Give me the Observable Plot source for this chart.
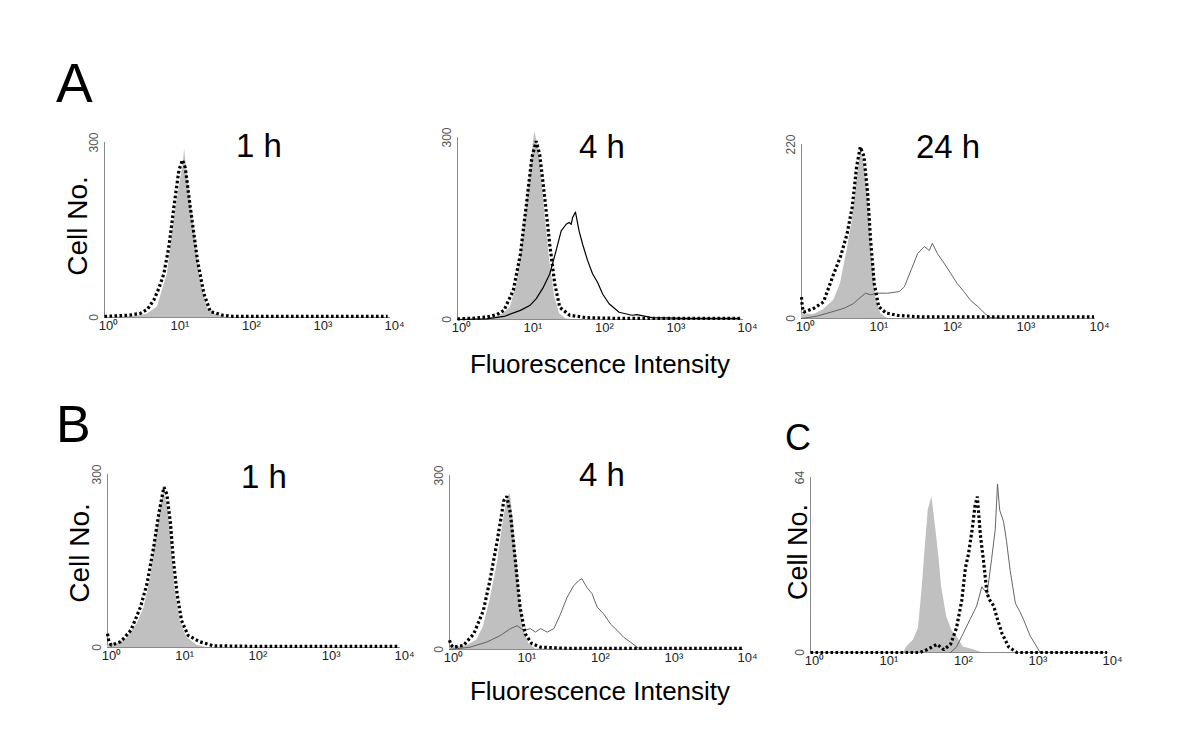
<!DOCTYPE html>
<html><head><meta charset="utf-8">
<script src="https://cdn.jsdelivr.net/npm/d3@7"></script>
<script src="https://cdn.jsdelivr.net/npm/@observablehq/plot@0.6"></script>
<style>
html,body{margin:0;padding:0;background:#fff;}
#fig{position:relative;width:1200px;height:756px;overflow:hidden;background:#fff;font-family:Arial,"Liberation Sans",Helvetica,sans-serif;}
#fig svg{position:absolute;}
</style></head><body><div id="fig"></div>
<script>
// ---- data (x in log10 decades of fluorescence intensity, y = cell number) ----
const decadeTicks = [1, 10, 100, 1000, 10000];
const decadeLabels = ["10\u2070", "10\u00B9", "10\u00B2", "10\u00B3", "10\u2074"];

// Panel A, 1 h
const a1FillLg = [0, 0.3, 0.5, 0.6, 0.74, 0.88, 0.97, 1.06, 1.1, 1.12, 1.15, 1.18, 1.25, 1.34, 1.44, 1.58, 1.7, 4];
const a1FillN  = [0, 1, 3, 6, 18, 75, 166, 234, 262, 289, 255, 223, 155, 64, 15, 4, 0, 0];
const a1DotLg  = [0, 0.2, 0.35, 0.5, 0.6, 0.69, 0.76, 0.83, 0.9, 0.97, 1.04, 1.09, 1.13, 1.2, 1.3, 1.39, 1.48, 1.55, 1.65, 1.8, 2.2, 3, 3.96];
const a1DotN   = [2, 3, 4, 7, 14, 30, 50, 75, 121, 189, 252, 270, 257, 189, 98, 41, 10, 8, 4, 2, 2, 2, 2];

// Panel A, 4 h
const a2FillLg = [0, 0.4, 0.55, 0.65, 0.74, 0.83, 0.92, 1.01, 1.06, 1.08, 1.11, 1.15, 1.22, 1.29, 1.36, 1.43, 1.52, 1.6, 4];
const a2FillN  = [0, 1, 5, 10, 20, 59, 135, 234, 290, 310, 295, 267, 179, 97, 37, 9, 1, 0, 0];
const a2DotLg  = [0, 0.2, 0.41, 0.55, 0.65, 0.78, 0.88, 0.97, 1.04, 1.1, 1.15, 1.22, 1.29, 1.36, 1.43, 1.57, 1.8, 2.2, 3, 3.95];
const a2DotN   = [1, 2, 4, 8, 15, 48, 108, 196, 267, 294, 272, 201, 124, 59, 20, 7, 3, 2, 2, 2];
const a2LineLg = [0, 0.41, 0.65, 0.88, 1.01, 1.1, 1.2, 1.29, 1.38, 1.45, 1.52, 1.56, 1.59, 1.61, 1.65, 1.7, 1.75, 1.82, 1.89, 1.96, 2.03, 2.12, 2.26, 2.44, 2.51, 2.72, 3.18, 3.95];
const a2LineN  = [0, 1, 5, 15, 23, 34, 53, 75, 114, 146, 157, 160, 157, 168, 177, 146, 124, 97, 75, 61, 42, 26, 12, 7, 8, 3, 2, 2];

// Panel A, 24 h
const a3FillLg = [0, 0.17, 0.3, 0.44, 0.53, 0.62, 0.69, 0.76, 0.81, 0.87, 0.92, 0.96, 1.01, 1.08, 1.17, 4];
const a3FillN  = [6, 5, 11, 23, 44, 86, 124, 179, 213, 187, 137, 78, 27, 6, 0, 0];
const a3DotLg  = [0, 0.01, 0.03, 0.17, 0.3, 0.44, 0.53, 0.62, 0.69, 0.75, 0.8, 0.85, 0.9, 0.94, 0.99, 1.05, 1.15, 1.3, 1.62, 2.5, 3.5, 3.98];
const a3DotN   = [27, 15, 8, 13, 21, 57, 78, 107, 141, 192, 217, 205, 158, 99, 44, 15, 7, 4, 2, 2, 2, 2];
const a3LineLg = [0, 0.21, 0.4, 0.58, 0.71, 0.78, 0.87, 0.94, 1.03, 1.17, 1.33, 1.4, 1.49, 1.58, 1.67, 1.74, 1.78, 1.85, 1.94, 2.03, 2.12, 2.21, 2.3, 2.4, 2.51, 2.58, 2.75];
const a3LineN  = [0, 3, 8, 13, 19, 25, 32, 30, 32, 32, 34, 40, 61, 82, 91, 86, 95, 82, 70, 57, 44, 34, 23, 15, 5, 1, 0];

// Panel B, 1 h
const b1FillLg = [0, 0.14, 0.27, 0.41, 0.5, 0.59, 0.65, 0.72, 0.77, 0.83, 0.88, 0.92, 0.99, 1.08, 1.22, 1.35, 4];
const b1FillN  = [4, 7, 16, 42, 70, 122, 180, 238, 272, 238, 174, 105, 47, 18, 4, 0, 0];
const b1DotLg  = [0, 0.02, 0.05, 0.18, 0.32, 0.45, 0.54, 0.63, 0.7, 0.77, 0.81, 0.86, 0.9, 0.95, 1.01, 1.1, 1.26, 1.44, 2, 3, 3.96];
const b1DotN   = [24, 10, 4, 10, 30, 70, 111, 174, 232, 278, 266, 215, 151, 93, 47, 21, 10, 3, 2, 2, 2];

// Panel B, 4 h
const b2FillLg = [0, 0.05, 0.24, 0.37, 0.46, 0.55, 0.65, 0.74, 0.79, 0.83, 0.87, 0.92, 0.96, 1.01, 1.08, 1.17, 4];
const b2FillN  = [3, 4, 7, 16, 39, 84, 148, 228, 263, 268, 217, 148, 84, 33, 10, 1, 0];
const b2DotLg  = [0, 0.02, 0.05, 0.19, 0.33, 0.46, 0.55, 0.65, 0.74, 0.78, 0.83, 0.9, 0.96, 1.03, 1.12, 1.24, 1.6, 2.5, 3.5, 3.98];
const b2DotN   = [16, 8, 4, 7, 27, 67, 119, 188, 257, 264, 234, 148, 73, 27, 10, 4, 2, 2, 2, 2];
const b2LineLg = [0, 0.28, 0.51, 0.69, 0.83, 0.92, 1.01, 1.1, 1.17, 1.24, 1.33, 1.42, 1.51, 1.6, 1.69, 1.76, 1.8, 1.87, 1.94, 2.01, 2.1, 2.19, 2.28, 2.37, 2.46, 2.55, 2.62];
const b2LineN  = [0, 4, 13, 24, 36, 41, 33, 36, 30, 36, 30, 36, 61, 90, 110, 119, 122, 107, 96, 73, 61, 44, 33, 21, 13, 4, 0];

// Panel C
const cFillLg = [1.25, 1.29, 1.38, 1.45, 1.5, 1.54, 1.58, 1.63, 1.67, 1.72, 1.76, 1.83, 1.9, 1.96, 2.05, 2.19, 2.3];
const cFillN  = [0, 2, 4.5, 9, 24, 38.5, 52, 57, 48, 36, 24, 13, 8, 6, 2, 1, 0];
const cDotLg  = [0, 1.47, 1.56, 1.7, 1.79, 1.88, 1.96, 2.03, 2.08, 2.12, 2.17, 2.21, 2.24, 2.28, 2.32, 2.37, 2.41, 2.46, 2.5, 2.57, 2.66, 2.77, 3.98];
const cDotN   = [0, 0, 1, 3, 1, 3, 9, 19, 31, 36, 45, 54, 57, 43, 34, 21.5, 19, 17, 13, 7, 2, 0, 0];
const cLineLg = [1.88, 1.96, 2.05, 2.14, 2.23, 2.3, 2.37, 2.43, 2.48, 2.51, 2.54, 2.59, 2.63, 2.68, 2.75, 2.81, 2.86, 2.95, 3.04, 3.08];
const cLineN  = [0, 2, 7, 12, 17, 24, 21.5, 34, 45, 61.6, 52, 48, 41, 30, 18, 15, 12, 6, 2, 0];

// ---- drawing ----
const FONT = 'Arial, "Liberation Sans", Helvetica, sans-serif';
const fig = document.getElementById("fig");
const zip = (lg, n) => lg.map((v, i) => ({x: Math.pow(10, v), y: n[i]}));

function panel(p) {
  const ml = 30, mr = 16, mt = 12, mb = 26;
  const W = p.x4 - p.x0 + ml + mr;
  const H = p.yBase - p.yTop + mt + mb;
  const marks = [
    Plot.ruleY([0], {x1: 1, x2: 10000, stroke: "#8a8a8a", strokeWidth: 1}),
    Plot.ruleX([1], {y1: 0, y2: p.ymax, stroke: "#8a8a8a", strokeWidth: 1}),
    Plot.text(decadeTicks, {x: d => d, y: () => 0, text: (d, i) => decadeLabels[i], dy: 8, dx: 4, fontSize: 13, fill: "#222"}),
    Plot.text([0, p.ymax], {x: () => 1, y: d => d, text: d => String(d), rotate: -90, dx: -10, fontSize: 12, fill: "#555"})
  ];
  if (p.fill) marks.push(Plot.areaY(zip(...p.fill), {x: "x", y: "y", fill: "#c0c0c0"}));
  if (p.line) marks.push(Plot.line(zip(...p.line), {x: "x", y: "y", stroke: p.lineColor, strokeWidth: p.lineWidth}));
  if (p.dot) marks.push(Plot.line(zip(...p.dot), {x: "x", y: "y", stroke: "#000", strokeWidth: 3.2, strokeDasharray: "2.6,2.4", strokeLinecap: "butt", strokeLinejoin: "miter"}));
  const svg = Plot.plot({
    width: W, height: H,
    marginLeft: ml, marginRight: mr, marginTop: mt, marginBottom: mb,
    x: {type: "log", domain: [1, 10000], axis: null},
    y: {domain: [0, p.ymax], axis: null},
    style: {fontFamily: FONT, background: "transparent", overflow: "visible"},
    marks
  });
  svg.style.left = (p.x0 - ml) + "px";
  svg.style.top = (p.yTop - mt) + "px";
  fig.appendChild(svg);
}

panel({x0: 104, x4: 390, yTop: 142, yBase: 317, ymax: 300, fill: [a1FillLg, a1FillN], dot: [a1DotLg, a1DotN]});
panel({x0: 457, x4: 743, yTop: 137, yBase: 319, ymax: 300, fill: [a2FillLg, a2FillN], line: [a2LineLg, a2LineN], lineColor: "#000", lineWidth: 1.2, dot: [a2DotLg, a2DotN]});
panel({x0: 801, x4: 1095, yTop: 144, yBase: 318, ymax: 220, fill: [a3FillLg, a3FillN], line: [a3LineLg, a3LineN], lineColor: "#555", lineWidth: 0.9, dot: [a3DotLg, a3DotN]});
panel({x0: 107, x4: 400, yTop: 474, yBase: 647, ymax: 300, fill: [b1FillLg, b1FillN], dot: [b1DotLg, b1DotN]});
panel({x0: 449, x4: 743, yTop: 475, yBase: 649, ymax: 300, fill: [b2FillLg, b2FillN], line: [b2LineLg, b2LineN], lineColor: "#555", lineWidth: 0.9, dot: [b2DotLg, b2DotN]});
panel({x0: 810, x4: 1108, yTop: 477, yBase: 652, ymax: 64, fill: [cFillLg, cFillN], line: [cLineLg, cLineN], lineColor: "#555", lineWidth: 0.9, dot: [cDotLg, cDotN]});

// ---- annotation text ----
const ov = d3.select(fig).append("svg").attr("width", 1200).attr("height", 756)
  .style("left", "0px").style("top", "0px").style("pointer-events", "none")
  .attr("font-family", FONT).attr("fill", "#000");
const t = (x, y, s, size, anchor = "middle", rot = 0) =>
  ov.append("text").attr("transform", `translate(${x},${y}) rotate(${rot})`)
    .attr("text-anchor", anchor).attr("font-size", size).text(s);
t(56, 102, "A", 55, "start");
t(56, 442, "B", 52, "start");
t(785, 450, "C", 36, "start");
t(259, 157, "1 h", 33);
t(602, 158, "4 h", 33);
t(948, 158, "24 h", 33);
t(264, 488, "1 h", 33);
t(602, 486, "4 h", 33);
t(600, 373, "Fluorescence Intensity", 26);
t(600, 700, "Fluorescence Intensity", 26);
t(87, 226, "Cell No.", 28, "middle", -90);
t(89, 553, "Cell No.", 28, "middle", -90);
t(807, 552, "Cell No.", 27, "middle", -90);
</script></body></html>
